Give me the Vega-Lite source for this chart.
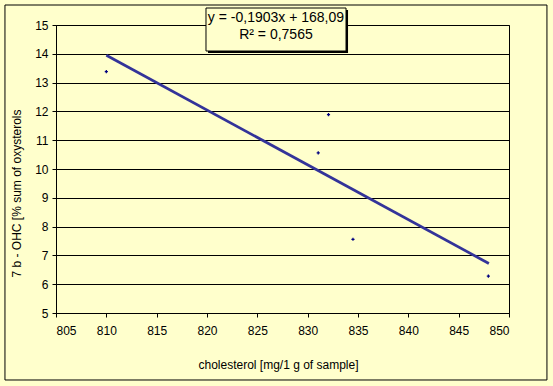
{
  "$schema": "https://vega.github.io/schema/vega-lite/v6.json",
  "width": 453,
  "height": 288,
  "autosize": {"type": "none"},
  "padding": {"left": 56, "top": 25, "right": 44, "bottom": 73},
  "background": "#FFFFCC",
  "config": {
    "font": "Liberation Sans",
    "view": {"stroke": "#000000", "strokeWidth": 1},
    "axis": {
      "labelFont": "Liberation Sans",
      "labelFontSize": 12,
      "labelColor": "#000000",
      "labelOverlap": false,
      "titleFont": "Liberation Sans",
      "titleFontSize": 12,
      "titleFontWeight": "normal",
      "titleColor": "#000000",
      "domainColor": "#000000",
      "tickColor": "#000000",
      "tickSize": 4,
      "gridColor": "#000000",
      "gridOpacity": 1,
      "tickCount": 30,
      "format": "d"
    }
  },
  "datasets": {
    "points": [
      {"cholesterol": 810.0, "ohc": 13.38},
      {"cholesterol": 831.05, "ohc": 10.56},
      {"cholesterol": 832.07, "ohc": 11.89},
      {"cholesterol": 834.5, "ohc": 7.56},
      {"cholesterol": 847.95, "ohc": 6.28}
    ],
    "trend": [
      {"cholesterol": 810, "ohc": 13.95},
      {"cholesterol": 848, "ohc": 6.72}
    ],
    "one": [{}]
  },
  "layer": [
    {
      "data": {"name": "trend"},
      "mark": {"type": "line", "color": "#333399", "strokeWidth": 2.7},
      "encoding": {
        "x": {
          "field": "cholesterol",
          "type": "quantitative",
          "scale": {"domain": [805, 850], "nice": false},
          "axis": {
            "values": [805, 810, 815, 820, 825, 830, 835, 840, 845, 850],
            "tickCount": 30,
            "format": "d",
            "grid": false,
            "labelPadding": 8,
            "title": "cholesterol  [mg/1  g of sample]",
            "titleX": 222,
            "titleY": 51,
            "titleBaseline": "middle"
          }
        },
        "y": {
          "field": "ohc",
          "type": "quantitative",
          "scale": {"domain": [5, 15], "nice": false},
          "axis": {
            "values": [5, 6, 7, 8, 9, 10, 11, 12, 13, 14, 15],
            "tickCount": 30,
            "format": "d",
            "grid": true,
            "labelPadding": 4,
            "title": "7 b - OHC [% sum of oxysterols",
            "titleAngle": 270,
            "titleX": -40,
            "titleY": 168,
            "titleAlign": "center",
            "titleBaseline": "middle"
          }
        }
      }
    },
    {
      "data": {"name": "one"},
      "mark": {"type": "rect", "fill": null, "stroke": "#000000", "strokeWidth": 1, "clip": false},
      "encoding": {
        "x": {"datum": 799.93, "type": "quantitative"},
        "x2": {"datum": 853.77},
        "y": {"datum": 15.694, "type": "quantitative"},
        "y2": {"datum": 2.674}
      }
    },
    {
      "data": {"name": "points"},
      "mark": {"type": "point", "shape": "cross", "filled": true, "size": 10, "color": "#000080", "opacity": 1},
      "encoding": {
        "x": {"field": "cholesterol", "type": "quantitative"},
        "y": {"field": "ohc", "type": "quantitative"}
      }
    },
    {
      "data": {"name": "one"},
      "mark": {"type": "rect", "fill": "#000000", "clip": false},
      "encoding": {
        "x": {"datum": 820.1, "type": "quantitative"},
        "x2": {"datum": 834.01},
        "y": {"datum": 15.52, "type": "quantitative"},
        "y2": {"datum": 14.028}
      }
    },
    {
      "data": {"name": "one"},
      "mark": {"type": "rect", "fill": "#FFFFCC", "stroke": "#000000", "strokeWidth": 1, "clip": false},
      "encoding": {
        "x": {"datum": 819.9, "type": "quantitative"},
        "x2": {"datum": 833.81},
        "y": {"datum": 15.59, "type": "quantitative"},
        "y2": {"datum": 14.097}
      }
    },
    {
      "data": {"name": "one"},
      "mark": {"type": "text", "font": "Liberation Sans", "fontSize": 14, "color": "#000000", "align": "center", "baseline": "middle", "clip": false},
      "encoding": {
        "x": {"datum": 826.85, "type": "quantitative"},
        "y": {"datum": 15.243, "type": "quantitative"},
        "text": {"value": "y = -0,1903x + 168,09"}
      }
    },
    {
      "data": {"name": "one"},
      "mark": {"type": "text", "font": "Liberation Sans", "fontSize": 14, "color": "#000000", "align": "center", "baseline": "middle", "clip": false},
      "encoding": {
        "x": {"datum": 826.85, "type": "quantitative"},
        "y": {"datum": 14.653, "type": "quantitative"},
        "text": {"value": "R² = 0,7565"}
      }
    }
  ]
}
